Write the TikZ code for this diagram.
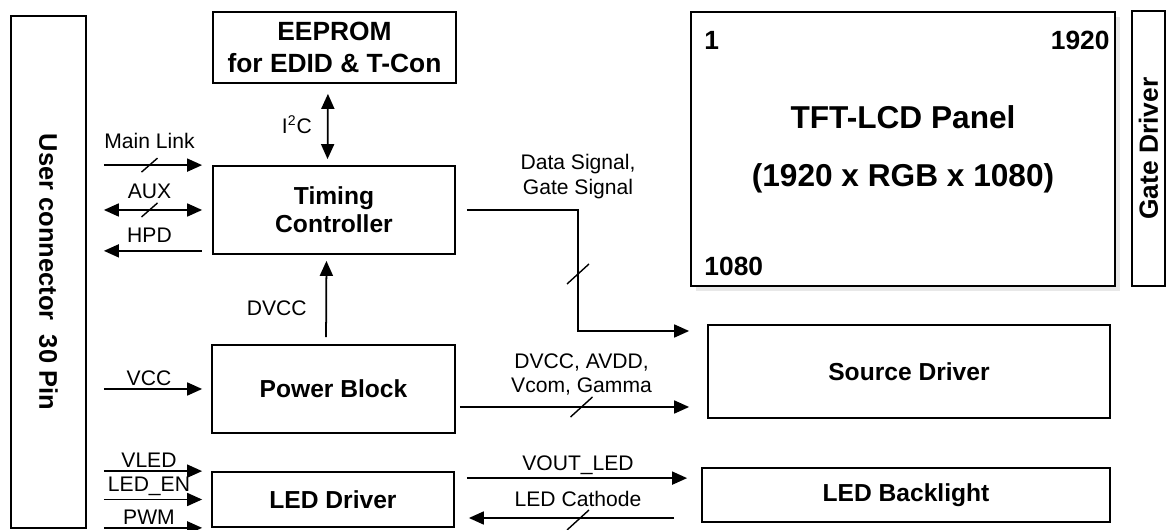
\documentclass[tikz,border=0pt]{standalone}
\usepackage{fontspec}
\setmainfont{Liberation Sans}
\usetikzlibrary{arrows.meta,positioning,calc,shadows}

\begin{document}
\begin{tikzpicture}[
  >={Triangle[length=0.3cm,width=0.26cm]},
  blk/.style={draw,line width=1pt,align=center,inner sep=0pt,
    font=\fontsize{14}{16}\selectfont\bfseries},
  lbl/.style={font=\fontsize{12}{14}\selectfont,inner sep=1.5pt,align=center},
  corner/.style={inner sep=0pt,font=\fontsize{15}{18}\selectfont\bfseries},
  sig/.style={line width=1pt},
  busmark/.style={line width=0.8pt}
]
  \useasboundingbox (0,0) rectangle (23.36,10.6);

  % User connector (left)
  \node[blk,minimum width=1.5cm,minimum height=10.24cm] (conn) at (0.97,5.16) {};
  \node[rotate=-90,font=\fontsize{14.5}{17}\selectfont\bfseries] (connlbl) at (conn.center)
    {User connector\ \ 30 Pin};

  % Blocks (middle column)
  \node[blk,minimum width=4.86cm,minimum height=1.42cm,
    font=\fontsize{15}{18}\selectfont\bfseries] (eeprom) at (6.69,9.65) {EEPROM\\for EDID \& T-Con};
  \node[blk,minimum width=4.84cm,minimum height=1.76cm] (tcon) at (6.68,6.4) {Timing\\Controller};
  \node[blk,minimum width=4.86cm,minimum height=1.76cm] (pwr) at (6.67,2.82) {Power Block};
  \node[blk,minimum width=4.84cm,minimum height=1.1cm] (ledd) at (6.66,0.61) {LED Driver};

  % Panel side (right)
  \node[blk,fill=white,minimum width=8.48cm,minimum height=5.48cm,
    drop shadow={shadow xshift=0.1cm,shadow yshift=-0.1cm,fill=black!18}] (panel) at (18.06,7.62) {};
  \node[align=center,font=\fontsize{18}{22}\selectfont\bfseries] (paneltxt) at (panel.center)
    {TFT-LCD Panel\\[11pt](1920 x RGB x 1080)};
  \node[corner,anchor=west] (px1) at ($(panel.north west)+(0.28,-0.59)$) {1};
  \node[corner,anchor=east] (px1920) at ($(panel.north east)+(-0.12,-0.59)$) {1920};
  \node[corner,anchor=west] (px1080) at ($(panel.south west)+(0.28,0.4)$) {1080};

  \node[blk,minimum width=0.66cm,minimum height=5.5cm] (gate) at (22.97,7.63) {};
  \node[rotate=90,font=\fontsize{15}{18}\selectfont\bfseries] (gatelbl) at (gate.center) {Gate Driver};

  \node[blk,minimum width=8.04cm,minimum height=1.86cm] (src) at (18.18,3.17) {Source Driver};
  \node[blk,minimum width=8.16cm,minimum height=1.08cm] (bl) at (18.12,0.7) {LED Backlight};

  % Connector to Timing Controller
  \coordinate (hpd) at ([yshift=0.08cm]tcon.south west);
  \draw[sig,->,shorten <=0.34cm,shorten >=0.2cm] (conn.east |- tcon.north)
    -- node[lbl,above=0.25cm] (mainlbl) {Main Link} coordinate (busmain) (tcon.north west);
  \draw[sig,<->,shorten <=0.34cm,shorten >=0.2cm] (conn.east |- tcon.west)
    -- node[lbl,above=0.15cm] (auxlbl) {AUX} coordinate (busaux) (tcon.west);
  \draw[sig,<-,shorten <=0.34cm,shorten >=0.2cm] (conn.east |- hpd)
    -- node[lbl,above=0.1cm] (hpdlbl) {HPD} (hpd);
  \draw[busmark] (busmain) +(-0.16,-0.14) -- +(0.16,0.14);
  \draw[busmark] (busaux) +(-0.16,-0.14) -- +(0.16,0.14);

  % Connector to Power Block and LED Driver
  \draw[sig,->,shorten <=0.34cm,shorten >=0.18cm] (conn.east |- pwr.west)
    -- node[lbl,above] (vcclbl) {VCC} (pwr.west);
  \draw[sig,->,shorten <=0.34cm,shorten >=0.18cm] (conn.east |- ledd.north)
    -- node[lbl,above] (vledlbl) {VLED} (ledd.north west);
  \draw[sig,->,shorten <=0.34cm,shorten >=0.18cm] (conn.east |- ledd.west)
    -- node[lbl,above] (enlbl) {LED\_EN} (ledd.west);
  \draw[sig,->,shorten <=0.34cm,shorten >=0.18cm] (conn.east |- ledd.south)
    -- node[lbl,above] (pwmlbl) {PWM} (ledd.south west);

  % I2C and DVCC
  \draw[sig,<->,shorten <=0.2cm,shorten >=0.12cm] ([xshift=-0.13cm]eeprom.south)
    -- node[lbl,left=0.25cm] (i2clbl) {I\textsuperscript{2}C} ([xshift=-0.13cm]tcon.north);
  \draw[sig,->,shorten <=0.14cm,shorten >=0.12cm] ([xshift=-0.15cm]pwr.north)
    -- node[lbl,pos=0.4,left=0.32cm] (dvcclbl) {DVCC} ([xshift=-0.15cm]tcon.south);

  % Timing Controller to Source Driver
  \coordinate (dsbend) at (11.56,3.98);
  \draw[sig,->,shorten <=0.22cm,shorten >=0.36cm] (tcon.east)
    -| node[lbl,pos=0.5,above=0.16cm] (dslbl) {Data Signal,\\Gate Signal} (dsbend)
    -- (src.west |- dsbend);
  \coordinate (busds) at (11.56,5.12);
  \draw[busmark] (busds) +(-0.22,-0.2) -- +(0.22,0.2);

  % Power Block to Source Driver
  \coordinate (pwrout) at ([yshift=-0.36cm]pwr.east);
  \draw[sig,->,shorten <=0.08cm,shorten >=0.36cm] (pwrout)
    -- node[lbl,above=0.16cm] (pwrlbl) {DVCC, AVDD,\\Vcom, Gamma} coordinate (buspwr) (src.west |- pwrout);
  \draw[busmark] (buspwr) +(-0.22,-0.2) -- +(0.22,0.2);

  % LED Driver and Backlight
  \coordinate (vout) at ([yshift=-0.14cm]ledd.north east);
  \coordinate (cath) at (bl.west |- 0,0.24);
  \draw[sig,->,shorten <=0.24cm,shorten >=0.28cm] (vout)
    -- node[lbl,above] (voutlbl) {VOUT\_LED} (bl.west |- vout);
  \draw[sig,->,shorten <=0.54cm,shorten >=0.28cm] (cath)
    -- node[lbl,above=0.15cm] (cathlbl) {LED Cathode} coordinate (buscath) (ledd.east |- cath);
  \draw[busmark] (buscath) +(-0.22,-0.24) -- +(0.22,0.16);
\end{tikzpicture}
\end{document}
